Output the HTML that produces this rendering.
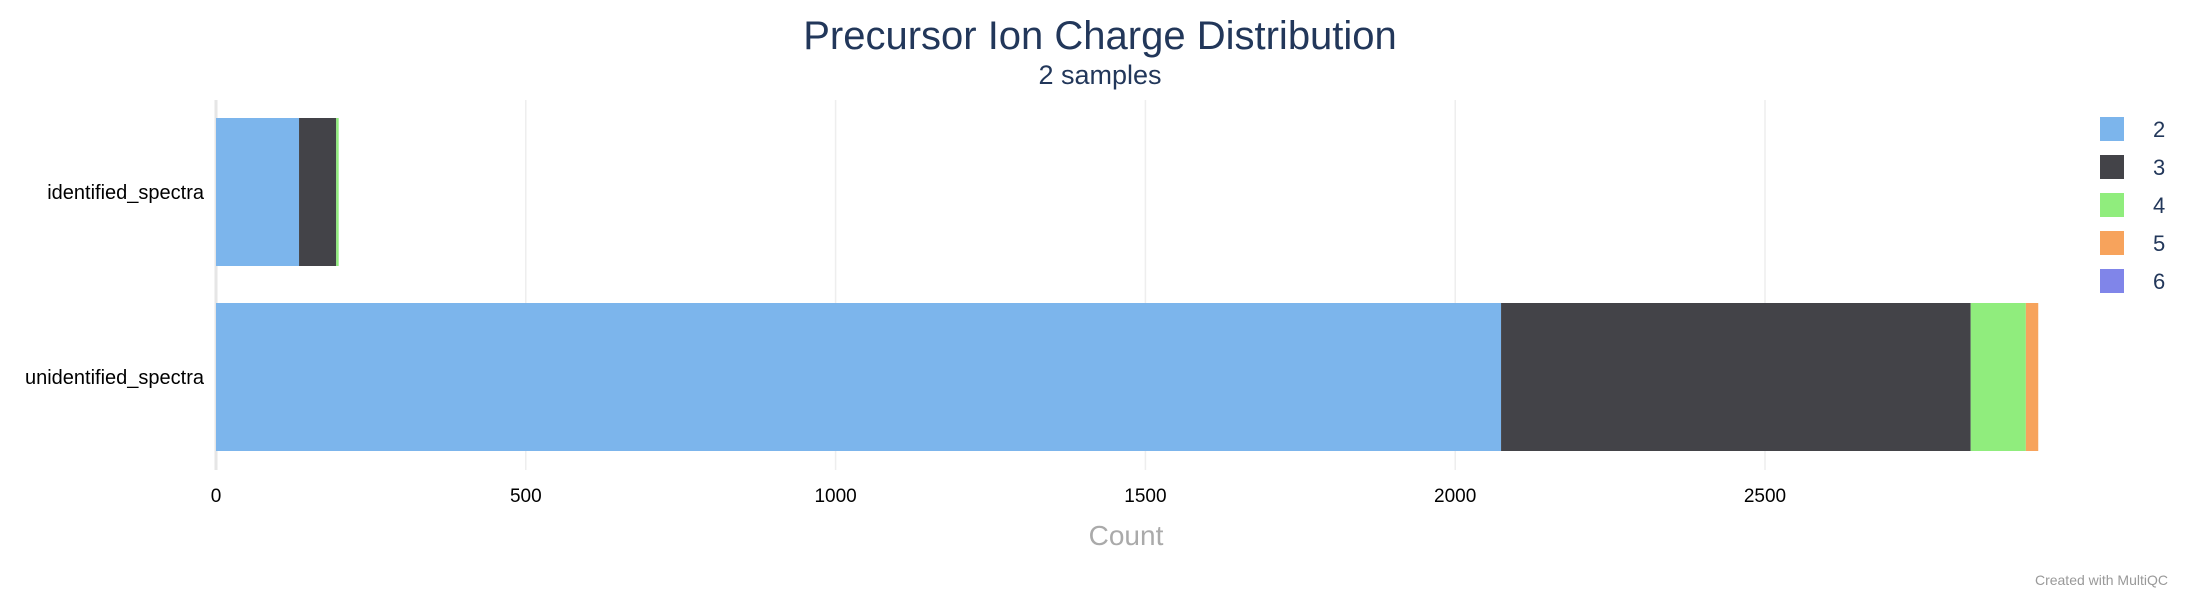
<!DOCTYPE html>
<html><head><meta charset="utf-8"><style>
html,body{margin:0;padding:0;background:#fff;width:2200px;height:600px;overflow:hidden;font-family:"Liberation Sans",Arial,sans-serif}
</style></head><body>
<svg id="chart" width="2200" height="600" xmlns="http://www.w3.org/2000/svg" font-family="Liberation Sans, Arial, sans-serif">
<text x="1100" y="49" text-anchor="middle" font-size="40" fill="#22375a">Precursor Ion Charge Distribution</text>
<text x="1100" y="84" text-anchor="middle" font-size="27" fill="#22375a">2 samples</text>
<g id="grid"></g>
<g id="bars"></g>
<g id="ylabels"></g>
<g id="xticks"></g>
<g id="legend"></g>
<text x="1126" y="545" text-anchor="middle" font-size="28" fill="#aaaaaa">Count</text>
<text x="2168" y="585" text-anchor="end" font-size="14" fill="#999999">Created with MultiQC</text>
</svg>
<script>
const categories = ["identified_spectra", "unidentified_spectra"];
const seriesNames = ["2", "3", "4", "5", "6"];
const charge2 = [134, 2074];
const charge3 = [60, 758];
const charge4 = [4, 89];
const charge5 = [0, 20];
const charge6 = [0, 0];
const xTicks = [0, 500, 1000, 1500, 2000, 2500];
const colors = ["#7cb5ec", "#434348", "#90ed7d", "#f7a35c", "#8085e9"];
const series = [charge2, charge3, charge4, charge5, charge6];

const NS = "http://www.w3.org/2000/svg";
const x0 = 216, pxPerUnit = 0.6196, plotTop = 100, plotBottom = 470;
const xScale = v => x0 + v * pxPerUnit;
const bandTop = [118, 303], bandH = 148;
function mk(tag, attrs, parent) {
  const e = document.createElementNS(NS, tag);
  for (const k in attrs) e.setAttribute(k, attrs[k]);
  parent.appendChild(e);
  return e;
}
const grid = document.getElementById("grid");
const xt = document.getElementById("xticks");
xTicks.forEach(t => {
  const gl = mk("line", {x1: xScale(t), x2: xScale(t), y1: plotTop, y2: plotBottom, stroke: t === 0 ? "#e6e6e6" : "#eeeeee", "stroke-width": t === 0 ? 3 : 1.5}, grid);
  
  
  const tx = mk("text", {x: xScale(t), y: 502, "text-anchor": "middle", "font-size": 19, fill: "#000"}, xt);
  tx.textContent = t;
  
  
});
const bars = document.getElementById("bars");
const yl = document.getElementById("ylabels");
categories.forEach((c, i) => {
  let acc = 0;
  series.forEach((s, j) => {
    const v = s[i];
    if (v > 0) {
      const r = mk("rect", {x: xScale(acc), y: bandTop[i], width: v * pxPerUnit, height: bandH, fill: colors[j]}, bars);
      
      
    }
    acc += v;
  });
  const lt = mk("text", {x: 204, y: bandTop[i] + bandH / 2 + 7, "text-anchor": "end", "font-size": 20, fill: "#000"}, yl);
  lt.textContent = c;
  
  
});
const lg = document.getElementById("legend");
seriesNames.forEach((n, j) => {
  const g = mk("g", {}, lg);
  
  
  mk("rect", {x: 2100, y: 117 + j * 38, width: 24, height: 24, fill: colors[j]}, g);
  const t = mk("text", {x: 2153, y: 137 + j * 38, "font-size": 22, fill: "#22375a"}, g);
  t.textContent = n;
});
</script>
</body></html>
